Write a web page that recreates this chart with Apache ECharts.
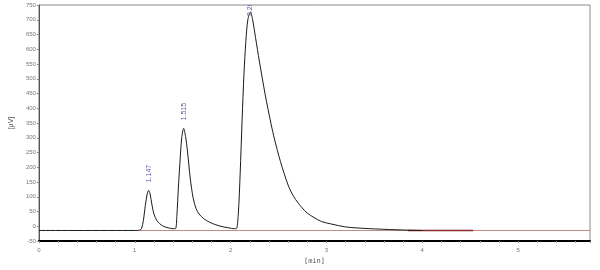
<!DOCTYPE html>
<html>
<head>
<meta charset="utf-8">
<script src="https://cdn.jsdelivr.net/npm/echarts@6/dist/echarts.min.js"></script>
<style>html,body{margin:0;padding:0;background:#fff}#c{width:600px;height:270px}</style>
</head>
<body>
<div id="c"></div>
<script>
// Signal: retention time (min) and detector response (µV)
var timeMin = [0, 1.0, 1.05, 1.07, 1.09, 1.11, 1.13, 1.145, 1.16, 1.18, 1.20, 1.23, 1.26, 1.30, 1.35, 1.40, 1.425,
  1.44, 1.455, 1.47, 1.49, 1.51, 1.53, 1.55, 1.58, 1.61, 1.64, 1.67, 1.72, 1.78, 1.84, 1.90, 1.98, 2.04, 2.06,
  2.08, 2.10, 2.12, 2.14, 2.16, 2.18, 2.207, 2.23, 2.26, 2.30, 2.36, 2.42, 2.46, 2.52, 2.60, 2.66, 2.74, 2.80,
  2.87, 2.95, 3.05, 3.20, 3.40, 3.60, 3.85, 4.0];
var signalUV = [-14, -14, -13, -8, 20, 70, 110, 122, 110, 72, 42, 20, 9, 0, -5, -8, -8,
  40, 130, 210, 300, 332, 305, 255, 160, 95, 60, 42, 26, 14, 6, 0, -5, -8, -8,
  40, 180, 360, 520, 630, 700, 726, 700, 640, 560, 448, 350, 293, 220, 140, 100, 65, 45,
  30, 16, 8, -2, -7, -10, -13, -14];
// Baseline segments
var baseStart = [1.05, -14];
var baseEnd = [5.75, -14];
var baseDarkStart = [3.85, -14];
var baseDarkEnd = [4.53, -14];
// Peak annotations
var peakTimes = [1.147, 1.515, 2.208];
var peakHeights = [122, 332, 726];
var peakLabels = ['1.147', '1.515', '2.208'];
// Axis ticks
var yMin = -50, yMax = 750, yStep = 50;
var xMin = 0, xMax = 5.75, xStep = 1;

var signal = timeMin.map(function (t, i) { return [t, signalUV[i]]; });
var peaks = peakTimes.map(function (t, i) { return [t, peakHeights[i], peakLabels[i]]; });

var chart = echarts.init(document.getElementById('c'));
var font = 'Liberation Sans';
chart.setOption({
  animation: false,
  grid: { left: 36, right: 10, top: 5, bottom: 24, show: true, borderColor: '#8a8a8a', borderWidth: 1 },
  xAxis: {
    type: 'value', min: xMin, max: xMax, interval: xStep,
    name: '[min]', nameLocation: 'middle', nameGap: 12,
    nameTextStyle: { fontFamily: 'DejaVu Sans Mono', fontSize: 7, color: '#555' },
    axisLine: { onZero: false, lineStyle: { color: '#000', width: 2 } },
    axisTick: { length: 2, lineStyle: { color: '#888' } },
    minorTick: { show: true, splitNumber: 5, length: 2, lineStyle: { color: '#aaa' } },
    axisLabel: { fontFamily: font, fontSize: 6, color: '#777', margin: 6, showMaxLabel: false },
    splitLine: { show: false }
  },
  yAxis: {
    type: 'value', min: yMin, max: yMax, interval: yStep,
    name: '[µV]', nameLocation: 'middle', nameGap: 16, nameRotate: 90,
    nameTextStyle: { fontFamily: font, fontSize: 7, color: '#555' },
    axisLine: { show: true, lineStyle: { color: '#555', width: 1 } },
    axisTick: { length: 2, lineStyle: { color: '#888' } },
    axisLabel: { fontFamily: font, fontSize: 6, color: '#777', margin: 3 },
    splitLine: { show: false }
  },
  series: [
    { type: 'line', data: [baseStart, baseEnd], symbol: 'none', lineStyle: { color: '#c08a8a', width: 1 }, z: 2 },
    { type: 'line', data: [baseDarkStart, baseDarkEnd], symbol: 'none', lineStyle: { color: '#8b2a2a', width: 1.3 }, z: 3 },
    { type: 'line', data: signal, symbol: 'none', smooth: 0.3, lineStyle: { color: '#1a1a1a', width: 1 }, z: 4 },
    {
      type: 'custom', clip: true, z: 5,
      data: peaks,
      renderItem: function (params, api) {
        var p = api.coord([api.value(0), api.value(1)]);
        var y = Math.max(p[1] - 8, 16);
        return {
          type: 'text', x: p[0], y: y, rotation: Math.PI / 2,
          style: { text: peakLabels[params.dataIndex], fill: '#5a5aa8', font: '7px ' + font, align: 'left', verticalAlign: 'middle' }
        };
      }
    }
  ]
});
</script>
</body>
</html>
